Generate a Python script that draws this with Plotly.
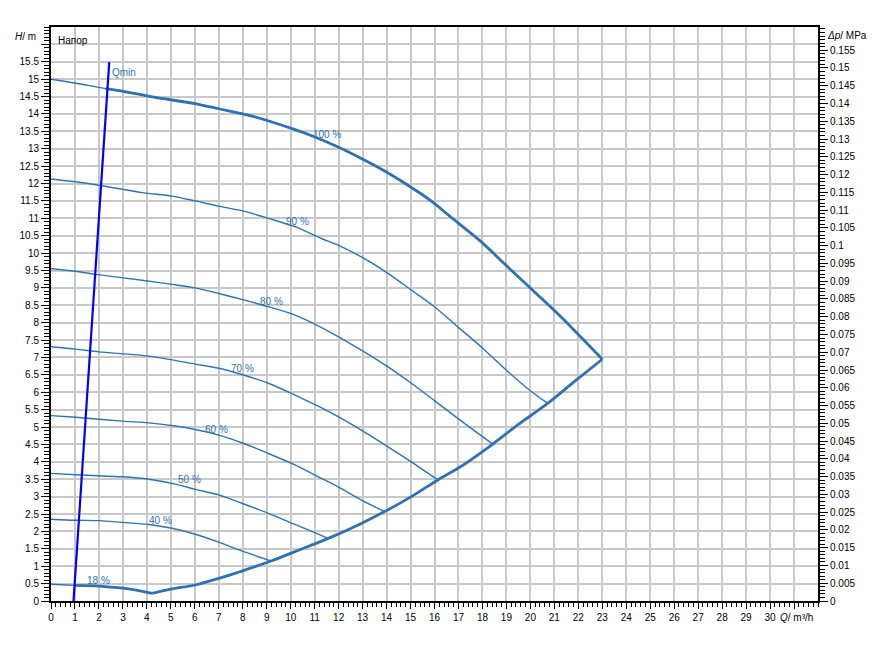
import plotly.graph_objects as go

# ---- data ----
q100 = [0, 1.0, 2.28, 2.97, 4.22, 6.0, 7.0, 8.38, 10.18, 11.01, 11.98, 12.95, 13.92, 14.89, 15.86, 16.69, 17.94, 18.91, 20.02, 21.27, 23.0]
h100 = [15.0, 14.89, 14.73, 14.66, 14.49, 14.3, 14.15, 13.94, 13.55, 13.34, 13.05, 12.72, 12.36, 11.95, 11.5, 11.03, 10.33, 9.7, 8.98, 8.17, 6.95]

q90 = [0, 1.0, 2.0, 3.8, 5.05, 6.02, 7.0, 7.96, 9.07, 10.18, 11.29, 11.98, 12.95, 14.06, 15.03, 16.0, 16.97, 17.94, 18.91, 19.88, 20.72]
h90 = [12.13, 12.05, 11.95, 11.74, 11.64, 11.5, 11.35, 11.22, 11.0, 10.76, 10.42, 10.23, 9.89, 9.42, 8.94, 8.46, 7.88, 7.31, 6.69, 6.11, 5.68]

q80 = [0, 1.0, 1.86, 3.8, 5.05, 6.02, 7.0, 7.96, 9.07, 10.18, 11.29, 12.95, 14.06, 15.03, 16.0, 16.97, 18.43]
h80 = [9.56, 9.48, 9.39, 9.22, 9.1, 9.0, 8.84, 8.67, 8.46, 8.22, 7.86, 7.21, 6.73, 6.26, 5.76, 5.25, 4.51]

q70 = [0, 1.03, 2.0, 4.08, 6.02, 7.0, 7.96, 9.07, 10.18, 11.15, 11.98, 12.95, 14.06, 15.03, 16.14]
h70 = [7.31, 7.24, 7.16, 7.04, 6.81, 6.69, 6.51, 6.26, 5.92, 5.6, 5.3, 4.91, 4.43, 4.0, 3.48]

q60 = [0, 1.03, 2.97, 4.08, 5.19, 6.02, 7.0, 7.96, 9.07, 10.18, 11.15, 11.98, 12.95, 13.92]
h60 = [5.33, 5.28, 5.17, 5.12, 5.03, 4.93, 4.77, 4.55, 4.24, 3.91, 3.57, 3.28, 2.9, 2.57]

q50 = [0, 1.03, 2.97, 4.08, 5.19, 6.02, 7.0, 7.96, 9.07, 10.18, 11.57]
h50 = [3.67, 3.63, 3.57, 3.5, 3.36, 3.21, 3.05, 2.81, 2.52, 2.2, 1.8]

q40 = [0, 1.03, 2.0, 2.97, 4.08, 5.05, 6.02, 7.0, 7.96, 9.18]
h40 = [2.35, 2.32, 2.31, 2.26, 2.2, 2.09, 1.92, 1.69, 1.44, 1.15]

q18 = [0, 1.0, 2.0, 2.5, 3.0, 3.5, 4.22]
h18 = [0.48, 0.45, 0.43, 0.4, 0.37, 0.32, 0.22]

q_env = [4.22, 5.0, 6.02, 7.0, 7.96, 9.18, 10.18, 11.57, 12.95, 13.92, 15.03, 16.14, 17.2, 18.43, 19.47, 20.72, 21.82, 23.0]
h_env = [0.22, 0.34, 0.46, 0.65, 0.86, 1.15, 1.42, 1.8, 2.23, 2.57, 3.0, 3.48, 3.91, 4.51, 5.06, 5.68, 6.3, 6.95]

q_min = [0.94, 2.43]
h_min = [0.0, 15.49]

curve_labels = ["100 %", "90 %", "80 %", "70 %", "60 %", "50 %", "40 %", "18 %"]
label_q = [11.5, 10.3, 9.2, 8.0, 6.9, 5.76, 4.55, 2.0]
label_h = [13.4, 10.9, 8.62, 6.67, 4.94, 3.5, 2.3, 0.6]

x_ticks = list(range(0, 32))
y_ticks = [i * 0.5 for i in range(0, 33)]
p_ticks = [round(i * 0.005, 3) for i in range(0, 32)]
MPA_PER_M = 0.00979
X_MAX, Y_MAX = 32, 16.5

# ---- figure ----
C = "#2f72b0"
FONT = "Liberation Sans, Arial, sans-serif"

fig = go.Figure()
curves = [(q100, h100), (q90, h90), (q80, h80), (q70, h70), (q60, h60), (q50, h50), (q40, h40), (q18, h18)]
for q, h in curves:
    fig.add_trace(go.Scatter(x=q, y=h, mode="lines", line=dict(color=C, width=1.4, shape="spline", smoothing=0.8),
                             hoverinfo="skip"))

# thick operating-range outline
thick = [(q100[2:], h100[2:]), (q_env, h_env), (q18[1:], h18[1:])]
for q, h in thick:
    fig.add_trace(go.Scatter(x=q, y=h, mode="lines", line=dict(color=C, width=2.8, shape="spline", smoothing=0.8),
                             hoverinfo="skip"))

fig.add_trace(go.Scatter(x=q_min, y=h_min, mode="lines", line=dict(color="#0000ff", width=2.2), hoverinfo="skip"))

# dummy trace for the right axis
fig.add_trace(go.Scatter(x=[0], y=[0], yaxis="y2", mode="markers", marker=dict(opacity=0), hoverinfo="skip"))


def px(q):
    return q / X_MAX


def py(h):
    return h / Y_MAX


ann = []
for t, x, y in zip(curve_labels, label_q, label_h):
    ann.append(dict(x=x, y=y, xref="x", yref="y", text=t, showarrow=False,
                    font=dict(family=FONT, size=10, color=C), xanchor="center", yanchor="middle"))
ann.append(dict(x=2.48, y=15.2, xref="x", yref="y", text="Qmin", showarrow=False,
                font=dict(family=FONT, size=10, color=C), xanchor="left", yanchor="middle"))
ann.append(dict(x=px(-1.06), y=py(16.24), xref="paper", yref="paper", text="<i>H</i>/ m", showarrow=False,
                font=dict(family=FONT, size=10, color="black"), xanchor="center", yanchor="middle"))
ann.append(dict(x=px(0.2), y=py(16.12), xref="paper", yref="paper", text="Напор", showarrow=False,
                font=dict(family=FONT, size=10, color="black"), xanchor="left", yanchor="middle"))
ann.append(dict(x=px(32.3), y=py(16.26), xref="paper", yref="paper", text="<i>Δp</i>/ MPa", showarrow=False,
                font=dict(family=FONT, size=10, color="black"), xanchor="left", yanchor="middle"))
ann.append(dict(x=px(31.12), y=py(-0.46), xref="paper", yref="paper", text="<i>Q</i>/ m³/h", showarrow=False,
                font=dict(family=FONT, size=10, color="black"), xanchor="center", yanchor="middle"))

GRID = "#c8c8c8"
fig.update_layout(
    width=874, height=640,
    margin=dict(l=40, r=64, t=19, b=47),
    plot_bgcolor="white", paper_bgcolor="white",
    showlegend=False,
    font=dict(family=FONT, size=10, color="black"),
    annotations=ann,
    xaxis=dict(
        range=[0, X_MAX], tickmode="array", tickvals=x_ticks,
        ticktext=[str(v) if v <= 30 else "" for v in x_ticks],
        showgrid=True, gridcolor=GRID, gridwidth=1.5,
        showline=True, linecolor="black", linewidth=2, mirror=True,
        ticks="outside", ticklen=6, tickwidth=1, tickcolor="black",
        minor=dict(tickmode="linear", tick0=0, dtick=0.2, ticklen=4, tickcolor="black", showgrid=False),
        zeroline=False, tickfont=dict(size=10, family=FONT, color="black"),
    ),
    yaxis=dict(
        range=[0, Y_MAX], tickmode="array", tickvals=y_ticks,
        ticktext=[f"{v:g}" if v <= 15.5 else "" for v in y_ticks],
        showgrid=True, gridcolor=GRID, gridwidth=1.5,
        showline=True, linecolor="black", linewidth=2, mirror=True,
        ticks="outside", ticklen=8, tickwidth=1, tickcolor="black",
        minor=dict(tickmode="linear", tick0=0, dtick=0.1, ticklen=5, tickcolor="black", showgrid=False),
        zeroline=False, tickfont=dict(size=10, family=FONT, color="black"),
    ),
    yaxis2=dict(
        overlaying="y", side="right",
        range=[0, Y_MAX * MPA_PER_M], tickmode="array", tickvals=p_ticks,
        ticktext=[f"{v:g}" for v in p_ticks],
        showgrid=False, showline=True, linecolor="black", linewidth=2,
        ticks="outside", ticklen=8, tickwidth=1, tickcolor="black",
        minor=dict(tickmode="linear", tick0=0, dtick=0.001, ticklen=5, tickcolor="black", showgrid=False),
        zeroline=False, tickfont=dict(size=10, family=FONT, color="black"),
    ),
)

fig.write_html("out.html")
